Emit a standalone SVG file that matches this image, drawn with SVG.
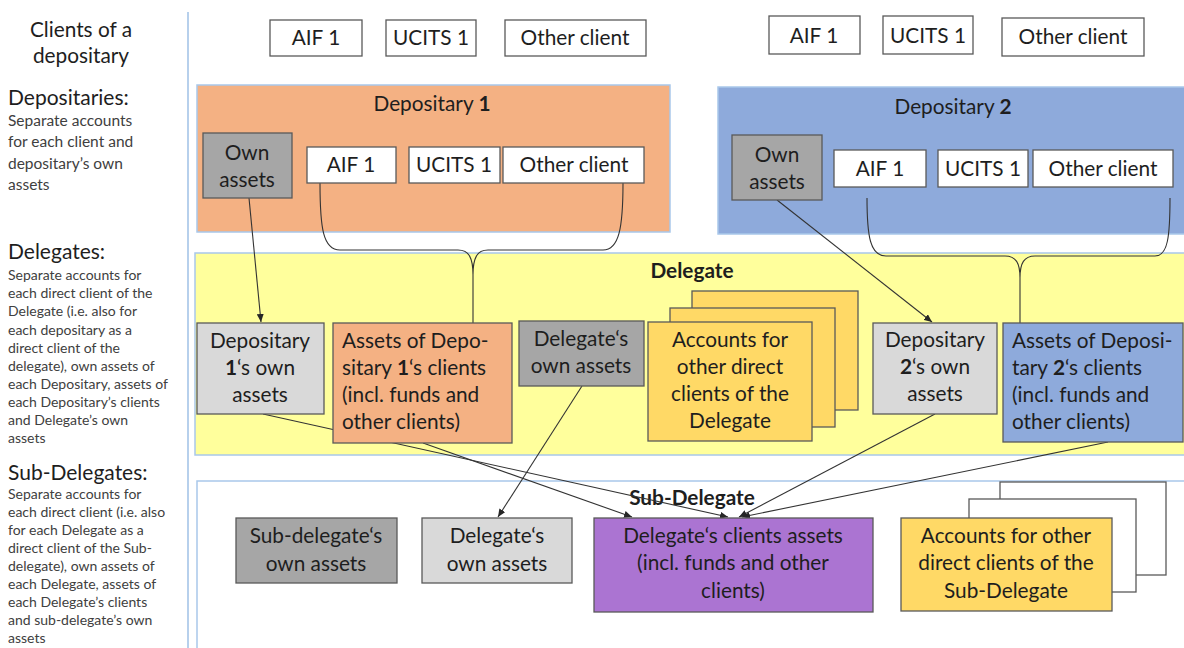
<svg xmlns="http://www.w3.org/2000/svg" width="1184" height="648" viewBox="0 0 1184 648">
<defs>
<marker id="arr" markerWidth="8" markerHeight="7" refX="8" refY="3.5" orient="auto" markerUnits="userSpaceOnUse">
<path d="M0,0 L8,3.5 L0,7 z" fill="#262626"/>
</marker>
<style>
text{font-family:Lato,"Liberation Sans",sans-serif;fill:#1e1e1e}
.t{font-size:20.8px}
.c{text-anchor:middle}
.h{font-size:21px}
.s1{font-size:15.5px;fill:#404040}
.s{font-size:14px;fill:#404040}
.b{font-weight:bold}
.box{stroke:#595959;stroke-width:1.3}
.wh{fill:#ffffff}
.or{fill:#f4b183}
.bl{fill:#8eaadb}
.lg{fill:#d9d9d9}
.mg{fill:#a6a6a6}
.gd{fill:#ffd966}
.pu{fill:#ab74d2}
.cont{stroke:#a9c8ea;stroke-width:1.5}
.ln{fill:none;stroke:#333333;stroke-width:1.1}
</style>
</defs>
<rect width="1184" height="648" fill="#ffffff"/>

<g id="legend">
<line x1="188" y1="12" x2="188" y2="648" stroke="#b7d0ec" stroke-width="2"/>
<text class="t c" x="81" y="37">Clients of a</text>
<text class="t c" x="81" y="63">depositary</text>
<text class="h" x="8" y="105">Depositaries:</text>
<text class="s1" x="8" y="126">Separate accounts</text>
<text class="s1" x="8" y="147">for each client and</text>
<text class="s1" x="8" y="169">depositary’s own</text>
<text class="s1" x="8" y="190">assets</text>
<text class="h" x="8" y="259">Delegates:</text>
<text class="s" x="8" y="280">Separate accounts for</text>
<text class="s" x="8" y="298">each direct client of the</text>
<text class="s" x="8" y="316">Delegate (i.e. also for</text>
<text class="s" x="8" y="335">each depositary as a</text>
<text class="s" x="8" y="353">direct client of the</text>
<text class="s" x="8" y="371">delegate), own assets of</text>
<text class="s" x="8" y="389">each Depositary, assets of</text>
<text class="s" x="8" y="407">each Depositary’s clients</text>
<text class="s" x="8" y="425">and Delegate’s own</text>
<text class="s" x="8" y="443">assets</text>
<text class="h" x="8" y="480">Sub-Delegates:</text>
<text class="s" x="8" y="499">Separate accounts for</text>
<text class="s" x="8" y="517">each direct  client (i.e. also</text>
<text class="s" x="8" y="535">for each Delegate as a</text>
<text class="s" x="8" y="553">direct client of the  Sub-</text>
<text class="s" x="8" y="571">delegate), own assets of</text>
<text class="s" x="8" y="589">each Delegate, assets of</text>
<text class="s" x="8" y="607">each Delegate’s clients</text>
<text class="s" x="8" y="625">and sub-delegate’s own</text>
<text class="s" x="8" y="643">assets</text>
</g>

<g id="client-aif1-a"><rect class="box wh" x="270" y="20" width="92" height="36"/><text class="t c" x="316" y="45">AIF 1</text></g>
<g id="client-ucits1-a"><rect class="box wh" x="386" y="20" width="90" height="36"/><text class="t c" x="431" y="45">UCITS 1</text></g>
<g id="client-other-a"><rect class="box wh" x="505" y="20" width="141" height="36"/><text class="t c" x="575" y="45">Other client</text></g>
<g id="client-aif1-b"><rect class="box wh" x="769" y="16" width="91" height="38"/><text class="t c" x="814" y="43">AIF 1</text></g>
<g id="client-ucits1-b"><rect class="box wh" x="883" y="16" width="90" height="38"/><text class="t c" x="928" y="43">UCITS 1</text></g>
<g id="client-other-b"><rect class="box wh" x="1002" y="18" width="142" height="38"/><text class="t c" x="1073" y="44">Other client</text></g>

<g id="depositary1"><rect class="cont or" x="197" y="85" width="473" height="147"/><text class="t c" x="432" y="111">Depositary <tspan class="b">1</tspan></text></g>
<g id="depositary2"><rect class="cont bl" x="718" y="87" width="470" height="147"/><text class="t c" x="953" y="114">Depositary <tspan class="b">2</tspan></text></g>
<g id="delegate"><rect class="cont" fill="#ffff9c" x="195" y="253" width="993" height="202"/><text class="t c b" x="692" y="278">Delegate</text></g>
<g id="sub-delegate"><rect class="cont" fill="#ffffff" x="197" y="481" width="991" height="175"/><text class="t c b" x="692" y="505">Sub-Delegate</text></g>

<g id="connectors">
<path class="ln" d="M249,198 L261,322" marker-end="url(#arr)"/>
<path class="ln" d="M320,183 C320,228 323,250 340,250 L458,250 C469,250 473,258 473,275 M473,275 C473,258 477,250 488,250 L603,250 C619,250 623,228 623,183 M473,275 L473,323"/>
<path class="ln" d="M867,198 C867,236 870,256 886,256 L1005,256 C1016,256 1020,263 1020,278 M1020,278 C1020,263 1024,256 1035,256 L1155,256 C1168,256 1170,236 1170,198 M1020,278 L1020,323"/>
<path class="ln" d="M777,200 L932,322" marker-end="url(#arr)"/>
<path class="ln" d="M263,414 L728,517" marker-end="url(#arr)"/>
<path class="ln" d="M423,443 L632,517" marker-end="url(#arr)"/>
<path class="ln" d="M935,414 L739,517" marker-end="url(#arr)"/>
<path class="ln" d="M1108,442 L742,517" marker-end="url(#arr)"/>
<path class="ln" d="M582,386 L498,517" marker-end="url(#arr)"/>
</g>

<g id="dep1-own"><rect class="box mg" x="203" y="133" width="89" height="65"/><text class="t c" x="247" y="160">Own</text><text class="t c" x="247" y="187">assets</text></g>
<g id="dep1-aif1"><rect class="box wh" x="307" y="147" width="89" height="36"/><text class="t c" x="351" y="172">AIF 1</text></g>
<g id="dep1-ucits1"><rect class="box wh" x="409" y="147" width="91" height="36"/><text class="t c" x="454" y="172">UCITS 1</text></g>
<g id="dep1-other"><rect class="box wh" x="503" y="147" width="141" height="36"/><text class="t c" x="574" y="172">Other client</text></g>

<g id="dep2-own"><rect class="box mg" x="732" y="135" width="90" height="65"/><text class="t c" x="777" y="162">Own</text><text class="t c" x="777" y="189">assets</text></g>
<g id="dep2-aif1"><rect class="box wh" x="834" y="150" width="92" height="37"/><text class="t c" x="880" y="176">AIF 1</text></g>
<g id="dep2-ucits1"><rect class="box wh" x="938" y="150" width="90" height="37"/><text class="t c" x="983" y="176">UCITS 1</text></g>
<g id="dep2-other"><rect class="box wh" x="1033" y="150" width="140" height="37"/><text class="t c" x="1103" y="176">Other client</text></g>

<g id="del-dep1-own"><rect class="box lg" x="197" y="323" width="127" height="91"/><text class="t c" x="260" y="348">Depositary</text><text class="t c" x="260" y="375"><tspan class="b">1</tspan>‘s own</text><text class="t c" x="260" y="402">assets</text></g>
<g id="del-dep1-clients"><rect class="box or" x="333" y="323" width="179" height="120"/><text class="t" x="342" y="348">Assets of Depo-</text><text class="t" x="342" y="375">sitary <tspan class="b">1</tspan>‘s clients</text><text class="t" x="342" y="402">(incl. funds and</text><text class="t" x="342" y="429">other clients)</text></g>
<g id="del-own"><rect class="box mg" x="519" y="321" width="125" height="65"/><text class="t c" x="581" y="346">Delegate‘s</text><text class="t c" x="581" y="373">own assets</text></g>
<g id="del-accounts"><rect class="box gd" x="692" y="291" width="166" height="119"/><rect class="box gd" x="670" y="308" width="165" height="119"/><rect class="box gd" x="648" y="322" width="164" height="119"/><text class="t c" x="730" y="347">Accounts for</text><text class="t c" x="730" y="374">other direct</text><text class="t c" x="730" y="401">clients of the</text><text class="t c" x="730" y="428">Delegate</text></g>
<g id="del-dep2-own"><rect class="box lg" x="873" y="323" width="124" height="91"/><text class="t c" x="935" y="347">Depositary</text><text class="t c" x="935" y="374"><tspan class="b">2</tspan>‘s own</text><text class="t c" x="935" y="401">assets</text></g>
<g id="del-dep2-clients"><rect class="box bl" x="1003" y="323" width="180" height="119"/><text class="t" x="1012" y="348">Assets of Deposi-</text><text class="t" x="1012" y="375">tary <tspan class="b">2</tspan>‘s clients</text><text class="t" x="1012" y="402">(incl. funds and</text><text class="t" x="1012" y="429">other clients)</text></g>

<g id="sub-own"><rect class="box mg" x="236" y="518" width="161" height="65"/><text class="t c" x="316" y="543">Sub-delegate‘s</text><text class="t c" x="316" y="571">own assets</text></g>
<g id="sub-del-own"><rect class="box lg" x="422" y="518" width="150" height="65"/><text class="t c" x="497" y="543">Delegate‘s</text><text class="t c" x="497" y="571">own assets</text></g>
<g id="sub-del-clients"><rect class="box pu" x="594" y="518" width="279" height="94"/><text class="t c" x="733" y="543">Delegate‘s clients assets</text><text class="t c" x="733" y="570">(incl. funds and other</text><text class="t c" x="733" y="598">clients)</text></g>
<g id="sub-accounts"><rect class="box wh" x="1000" y="482" width="166" height="93"/><rect class="box wh" x="969" y="499" width="167" height="93"/><rect class="box gd" x="901" y="518" width="211" height="93"/><text class="t c" x="1006" y="543">Accounts for other</text><text class="t c" x="1006" y="570">direct clients of the</text><text class="t c" x="1006" y="598">Sub-Delegate</text></g>
</svg>
